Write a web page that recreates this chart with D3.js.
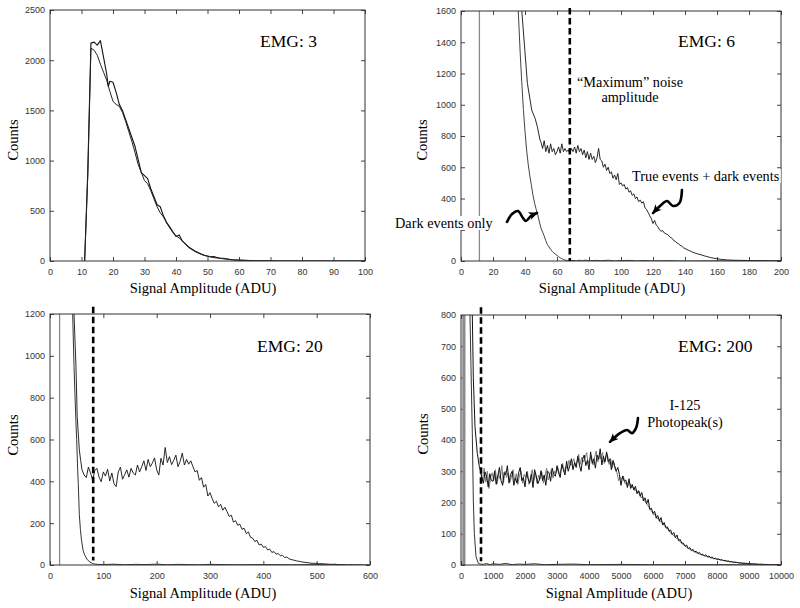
<!DOCTYPE html>
<html><head><meta charset="utf-8">
<script src="https://cdn.jsdelivr.net/npm/d3@7"></script>
<style>body{margin:0;background:#fff}</style>
</head><body>
<svg id="c" width="800" height="608" xmlns="http://www.w3.org/2000/svg"></svg>
<script>
// ---------------- DATA ----------------
// Panel EMG 3 : two nearly coincident histograms
const emg3AX = [11,12,13,14,15,16,17,18,18.5,19,20,21,22,23,24,25,26,27,28,29,30,31,32,33,34,35,36,37,38,39,40,41,42,43,44,45,46,47,48,49,50,51,52,53,54,55,56,57,58,60,62,65,70,73,100];
const emg3AY = [0,900,2170,2180,2150,2195,2030,1860,1740,1790,1780,1680,1560,1500,1410,1320,1230,1140,1010,880,850,820,720,640,560,540,450,385,340,290,245,260,200,170,140,120,100,85,70,58,50,42,44,35,30,27,22,17,13,9,6,3,1,0,0];
const emg3BX = d3.range(11,59).concat([60,62,65,70,73,100]);
const emg3BY = [0,850,2120,2100,2050,1960,1880,1800,1690,1590,1560,1540,1480,1390,1290,1190,1080,960,880,800,770,700,620,540,480,440,380,330,285,250,230,200,165,135,115,95,80,66,55,47,40,34,30,26,22,18,14,11,7,5,3,1,0,0];

// Panel EMG 6
const emg6Spike = 11.5;
const emg6NoiseMax = 68;
const emg6DarkX = [34,35.8,37,38,39,40,41,42,43,44,45,46,47,48,49,50,51,52,53,54,55,56,57,58,59,60,61,62,63,64,65,66,68,70,72,74,76,78,80,84,88,92,96,100,105,110,115,120,130,140,160,200];
const emg6DarkY = [1900,1600,1330,1140,970,830,710,620,545,485,420,370,330,295,250,210,185,160,130,105,90,75,62,52,44,36,28,20,15,10,6,4,2,4,1,5,2,6,1,4,2,5,1,3,4,1,3,1,2,0,1,0];
const emg6TrueHeadX = [36.5,38,41.5,44.2,46.3,47.7,49.4];
const emg6TrueHeadY = [1900,1600,1137,966,913,860,774];
const emg6TrueGridX = d3.range(50,141);
const emg6TrueGridY = [760,720,770,700,740,690,750,700,720,680,
  700,730,690,750,700,720,700,710,690,720,
  700,730,690,740,700,720,680,710,660,700,
  650,690,650,670,630,660,720,650,640,600,
  620,580,600,560,570,530,550,520,560,490,
  500,480,490,460,470,440,450,420,430,400,
  410,380,390,370,380,340,330,310,290,270,
  240,260,230,220,200,190,195,180,175,170,
  160,150,145,130,125,115,110,100,95,85,
  80];
const emg6TrueTailX = [142,144,146,148,150,152,154,156,158,160,163,166,170,175,180,185,190,195,200];
const emg6TrueTailY = [70,60,52,45,40,33,28,22,18,14,10,7,5,4,3,2,2,1,1];

// Panel EMG 20
const emg20Spike = 18;
const emg20NoiseMax = 81;
const emg20DarkX = [41,43,45,47,49,50,52,53,55,57,59,62,65,70,75,80,85,90,100,120,140,160,180,200,220,240,260,280,300,350,400,450,500,550];
const emg20DarkY = [1400,1150,950,800,660,600,450,390,240,170,120,70,48,25,14,7,4,3,2,4,1,3,2,4,1,3,2,1,3,1,2,1,2,0];
const emg20TrueHeadX = [44,45,48.7,51,55,57.5];
const emg20TrueHeadY = [1300,1200,948,709,550,500];
const emg20TrueGridAX = d3.range(60,453,4);
const emg20TrueGridAY = [455,430,418,468,440,405,452,462,420,398,445,
  425,458,402,440,388,375,445,468,410,432,
  455,420,462,440,430,478,445,470,498,452,
  505,470,488,512,455,430,510,478,562,490,
  518,480,500,525,470,495,535,478,505,482,
  498,470,445,452,405,418,372,385,330,346,
  318,295,305,278,290,262,276,255,232,238,
  205,212,190,195,170,176,150,158,132,128,
  112,118,96,100,84,88,72,76,60,64,
  52,55,44,46,36,38,30,26];
const emg20TrueGridBX = d3.range(456,601,6);
const emg20TrueGridBY = [24,20,17,14,12,10,8,8,6,6,5,4,3,4,2,2,2,1,2,1,1,1,0,1,0];

// Panel EMG 200
const emg200Band = 90;
const emg200NoiseMax = 625;
const emg200DarkX = [270,281,312,354,385,417,469,542,600,700,800,900,1000,1200,1400,1600,1800,2000,2300,2600,3000,3500,4000,5000,6000,8000,10000];
const emg200DarkY = [900,800,635,421,208,101,27,5,3,2,5,1,4,2,5,1,3,2,4,1,2,3,1,2,1,1,0];
const emg200TrueHeadX = [340,354,385,437,510,573];
const emg200TrueHeadY = [900,800,600,443,357,315];
const emg200TrueGridX = d3.range(600,10001,50);
const emg200TrueGridY = [305,280,262,298,284,250,292,270,268,
  300,258,285,312,270,255,296,288,318,262,
  290,300,255,278,262,295,312,270,280,250,
  298,275,262,290,248,305,285,260,272,302,
  270,288,255,300,296,268,310,290,284,318,
  295,280,322,305,288,332,300,318,340,305,
  328,312,348,320,300,338,352,318,335,305,
  362,325,340,310,352,338,372,320,348,330,
  362,330,340,305,335,318,300,312,290,255,
  285,268,272,248,276,245,258,240,252,228,
  238,220,232,205,215,196,210,178,182,165,
  172,150,158,140,152,128,136,120,122,108,
  112,98,104,88,96,78,82,70,70,60,
  64,52,56,46,50,42,44,37,40,33,
  35,29,33,26,29,23,26,20,22,18,
  20,16,17,14,15,12,13,10,11,9,
  9,8,8,6,7,5,6,5,5,4,
  4,3,4,3,3,2,3,2,2,1,
  2,1,1,1,1,0,1,1,0,0];
// second (grey) acquisition overlapping the black one
const emg200GreyX = d3.range(625,10000,50);
const emg200GreyY = [290,275,310,265,300,245,280,295,
  270,305,260,290,275,318,262,300,280,295,
  265,280,305,270,292,258,285,300,262,290,
  280,300,258,282,305,270,295,262,288,275,
  298,262,285,310,272,290,305,278,300,295,
  312,290,305,325,298,315,308,335,318,325,
  340,318,330,355,322,345,330,342,360,325,
  338,350,320,345,365,330,350,340,360,325,
  345,355,322,340,312,328,305,295,270,280,
  275,285,260,265,255,262,248,250,238,242,
  230,235,215,220,205,200,192,185,175,170,
  160,165,148,150,138,140,128,125,115,118,
  105,100,96,92,86,84,76,72,66,64,
  58,56,52,49,46,44,40,39,36,35,
  32,31,28,28,25,25,22,22,20,19,
  18,17,16,15,14,13,12,12,11,10,
  9,9,8,7,7,6,6,5,5,4,
  4,4,3,3,3,2,2,2,2,2,
  1,1,1,1,1,1,0,1,0,0];

// Annotation arrows (data coordinates of their panel)
const arrowDarkX = [28.75,31.9,35.6,38.75,40.6,43.75,47.5];
const arrowDarkY = [250,301,320,275,256,288,307];
const arrowTrueX = [138.1,136.5,132.5,128.75,124.4,120];
const arrowTrueY = [454,371,352,384,352,307];
const arrowPeakX = [5531,5469,5344,5187,4969,4656];
const arrowPeakY = [470,438,422,432,422,394];

// ---------------- HELPERS ----------------
const zip = (xs, ys) => xs.map((x,i)=>[x, ys[i]]);
const svg = d3.select('#c');
const TICKFONT = "'Liberation Sans', Arial, sans-serif";
const SERIF = "'Liberation Serif', 'Times New Roman', serif";

svg.append('defs').append('marker')
  .attr('id','ah').attr('markerUnits','userSpaceOnUse')
  .attr('viewBox','0 -5 10 10').attr('refX',9).attr('refY',0)
  .attr('markerWidth',10).attr('markerHeight',9).attr('orient','auto')
  .append('path').attr('d','M0,-4.5L10,0L0,4.5L2.5,0Z').attr('fill','#000');

const panels = [
  { frame:[50,10,365,261], xd:[0,100], yd:[0,2500], xt:d3.range(0,101,10), yt:d3.range(0,2501,500),
    title:'EMG: 3', titlePos:[260,47], xlab:[203,293], ylab:[18,140],
    series:[ {d:zip(emg3AX,emg3AY), c:'#111', w:1.1}, {d:zip(emg3BX,emg3BY), c:'#222', w:1} ] },
  { frame:[461,11,781,261], xd:[0,200], yd:[0,1600], xt:d3.range(0,201,20), yt:d3.range(0,1601,200),
    hiddenY:[200],
    title:'EMG: 6', titlePos:[678,47], xlab:[612,293], ylab:[427,140],
    spike:emg6Spike, spikeW:1.3, dash:emg6NoiseMax, dashTop:1620, dashBot:0,
    series:[ {d:zip(emg6DarkX,emg6DarkY), c:'#444', w:1},
             {d:zip(emg6TrueHeadX,emg6TrueHeadY).concat(zip(emg6TrueGridX,emg6TrueGridY), zip(emg6TrueTailX,emg6TrueTailY)), c:'#111', w:0.9} ],
    arrows:[ zip(arrowDarkX,arrowDarkY), zip(arrowTrueX,arrowTrueY) ] },
  { frame:[50,314,370,565], xd:[0,600], yd:[0,1200], xt:d3.range(0,601,100), yt:d3.range(0,1201,200),
    title:'EMG: 20', titlePos:[257,352], xlab:[203,598], ylab:[18,435],
    spike:emg20Spike, spikeW:1.3, dash:emg20NoiseMax, dashTop:1235, dashBot:22,
    series:[ {d:zip(emg20DarkX,emg20DarkY), c:'#333', w:1},
             {d:zip(emg20TrueHeadX,emg20TrueHeadY).concat(zip(emg20TrueGridAX,emg20TrueGridAY), zip(emg20TrueGridBX,emg20TrueGridBY)), c:'#111', w:0.9} ] },
  { frame:[461,315,781,565], xd:[0,10000], yd:[0,800], xt:d3.range(0,10001,1000), yt:d3.range(0,801,100),
    title:'EMG: 200', titlePos:[678,352], xlab:[619,598], ylab:[428,434],
    spike:emg200Band, spikeW:3.2, dash:emg200NoiseMax, dashTop:825, dashBot:12,
    series:[ {d:zip(emg200DarkX,emg200DarkY), c:'#333', w:1},
             {d:zip(emg200GreyX,emg200GreyY), c:'#7a7a7a', w:1},
             {d:zip(emg200TrueHeadX,emg200TrueHeadY).concat(zip(emg200TrueGridX,emg200TrueGridY)), c:'#111', w:1} ],
    arrows:[ zip(arrowPeakX,arrowPeakY) ] }
];

panels.forEach((p, i) => {
  const [l,t,r,b] = p.frame;
  const x = d3.scaleLinear().domain(p.xd).range([l,r]);
  const y = d3.scaleLinear().domain(p.yd).range([b,t]);
  const g = svg.append('g');
  const hidden = p.hiddenY || [];

  g.append('clipPath').attr('id','clip'+i).append('rect')
    .attr('x',l).attr('y',t).attr('width',r-l).attr('height',b-t);

  const tickStyle = sel => {
    sel.select('.domain').remove();
    sel.selectAll('line').attr('stroke','#444');
    sel.selectAll('text').attr('fill','#333').style('font-family',TICKFONT).style('font-size','9px');
  };
  g.append('g').attr('transform',`translate(0,${b})`)
    .call(d3.axisBottom(x).tickValues(p.xt).tickFormat(d3.format('d')).tickSize(-4).tickPadding(7.5)).call(tickStyle);
  g.append('g').attr('transform',`translate(0,${t})`)
    .call(d3.axisTop(x).tickValues(p.xt).tickFormat('').tickSize(-4)).call(tickStyle);
  g.append('g').attr('transform',`translate(${l},0)`)
    .call(d3.axisLeft(y).tickValues(p.yt).tickFormat(d => hidden.includes(d) ? '' : d3.format('d')(d)).tickSize(-4).tickPadding(5)).call(tickStyle);
  g.append('g').attr('transform',`translate(${r},0)`)
    .call(d3.axisRight(y).tickValues(p.yt).tickFormat('').tickSize(-4)).call(tickStyle);

  const plot = g.append('g').attr('clip-path',`url(#clip${i})`);

  if (p.spike !== undefined) {
    plot.append('line').attr('x1',x(p.spike)).attr('x2',x(p.spike))
      .attr('y1',y(p.yd[0])).attr('y2',y(p.yd[1]))
      .attr('stroke','#8a8a8a').attr('stroke-width',p.spikeW);
  }

  const line = d3.line().x(d=>x(d[0])).y(d=>y(d[1]));
  p.series.forEach(s => {
    plot.append('path').attr('d',line(s.d)).attr('fill','none')
      .attr('stroke',s.c).attr('stroke-width',s.w).attr('stroke-linejoin','round');
  });

  g.append('rect').attr('x',l).attr('y',t).attr('width',r-l).attr('height',b-t)
    .attr('fill','none').attr('stroke','#333').attr('stroke-width',1);

  if (p.dash !== undefined) {
    g.append('line').attr('x1',x(p.dash)).attr('x2',x(p.dash))
      .attr('y1',y(p.dashTop)).attr('y2',y(p.dashBot))
      .attr('stroke','#000').attr('stroke-width',2.6).attr('stroke-dasharray','6.5,3.5');
  }

  if (p.arrows) {
    const aline = d3.line().x(d=>x(d[0])).y(d=>y(d[1])).curve(d3.curveCatmullRom);
    p.arrows.forEach(a => {
      g.append('path').attr('d',aline(a)).attr('fill','none').attr('stroke','#000')
        .attr('stroke-width',2.6).attr('stroke-linecap','round').attr('marker-end','url(#ah)');
    });
  }

  g.append('text').attr('x',p.titlePos[0]).attr('y',p.titlePos[1]).text(p.title)
    .style('font-family',SERIF).style('font-size','17.5px').attr('fill','#000');
  g.append('text').attr('x',p.xlab[0]).attr('y',p.xlab[1]).attr('text-anchor','middle')
    .text('Signal Amplitude (ADU)').style('font-family',SERIF).style('font-size','14.5px');
  g.append('text').attr('transform',`translate(${p.ylab[0]},${p.ylab[1]}) rotate(-90)`)
    .attr('text-anchor','middle').text('Counts').style('font-family',SERIF).style('font-size','14.5px');
});

// free annotations
const notes = [
  {t:'\u201CMaximum\u201D noise', x:630, y:87, a:'middle'},
  {t:'amplitude', x:630, y:102, a:'middle'},
  {t:'True events + dark events', x:632, y:181, a:'start', bg:true},
  {t:'Dark events only', x:395, y:228, a:'start', bg:true},
  {t:'I-125', x:685, y:410, a:'middle'},
  {t:'Photopeak(s)', x:685, y:427, a:'middle'}
];
const ng = svg.append('g');
notes.forEach(d => {
  const bgRect = d.bg ? ng.append('rect').attr('fill','#fff') : null;
  const txt = ng.append('text').attr('x',d.x).attr('y',d.y).attr('text-anchor',d.a).text(d.t)
    .style('font-family',SERIF).style('font-size','14.3px').attr('fill','#000');
  if (bgRect) {
    const bb = txt.node().getBBox();
    bgRect.attr('x',bb.x-1).attr('y',bb.y+1).attr('width',bb.width+2).attr('height',bb.height-2);
  }
});
</script>
</body></html>
